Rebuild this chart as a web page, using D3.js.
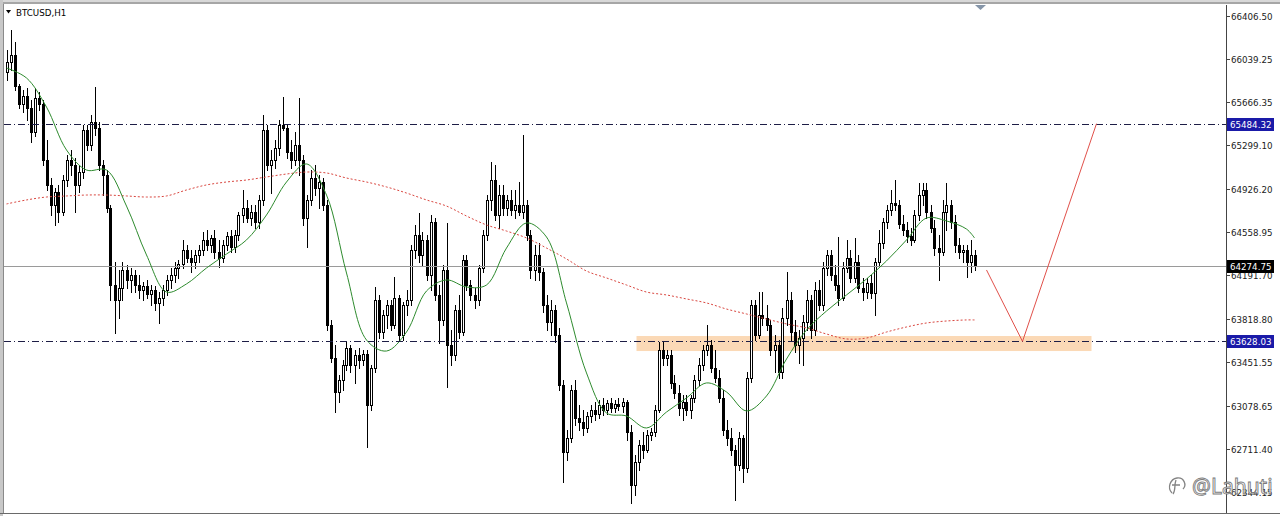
<!DOCTYPE html>
<html><head><meta charset="utf-8">
<script src="https://cdn.jsdelivr.net/npm/d3@7"></script>
<style>html,body{margin:0;padding:0;background:#fff;overflow:hidden}</style>
</head><body><svg id="c" width="1280" height="516"></svg>
<script>
const symbol = "BTCUSD,H1";
const open = [65925,66010,66070,65805,65652,65720,65618,65413,65703,65652,
65175,64962,64791,64902,64731,65004,65175,65132,64962,65072,
65430,65303,65499,65448,65132,65047,64766,64109,63981,64084,
64237,64152,64194,64109,64066,64101,64032,64066,63956,63998,
64066,64152,64194,64254,64288,64407,64339,64305,64365,64407,
64493,64450,64510,64390,64339,64450,64527,64433,64535,64706,
64766,64680,64731,64646,64834,65430,65132,65175,65277,65473,
65448,65243,65175,65303,65175,64680,64834,65021,64936,64987,
64791,63768,63487,63197,63299,63427,63572,63427,63512,63470,
63521,63086,63401,63981,63708,63853,63939,63768,63998,63683,
63939,63981,64407,64535,64365,64493,64194,64646,64024,63811,
64237,63598,63512,63896,63708,64322,64109,64024,63981,64254,
64535,64834,65004,64706,64876,64766,64834,64748,64791,64731,
64791,64535,64237,64365,64220,63939,63794,63896,63683,63257,
62685,62805,63214,62975,62941,62890,62992,63043,63009,63086,
63043,63103,63061,63095,63077,63112,62856,62404,62600,62745,
62702,62830,62856,63043,63555,63487,63512,63274,63188,63061,
63112,63043,63146,63299,63427,63555,63598,63401,63316,63146,
62873,62805,62702,62575,62805,62549,63316,63939,63683,63853,
63828,63768,63555,63598,63367,63828,63981,63708,63598,63657,
63794,63981,63725,64066,63939,64254,64365,64194,64109,63998,
64254,64339,64169,64305,64084,64049,64126,64041,64305,64467,
64646,64748,64808,64791,64629,64578,64527,64493,64706,64876,
64919,64731,64595,64424,64390,64731,64791,64646,64450,64390,
64407,64305,64365];
const high = [66112,66283,66181,65823,65771,65788,65686,65788,65754,65686,
65345,65021,64936,64962,65047,65217,65260,65192,65132,65473,
65473,65558,65797,65499,65175,65089,64791,64305,64237,64305,
64280,64254,64237,64194,64135,64152,64109,64101,64049,64109,
64194,64254,64305,64322,64493,64450,64407,64407,64450,64561,
64578,64535,64578,64493,64493,64561,64578,64578,64731,64919,
64834,64791,64791,64876,65558,65473,65260,65345,65516,65712,
65482,65345,65413,65703,65217,64876,65089,65132,65047,65021,
64834,63811,63598,63342,63470,63623,63598,63555,63572,63555,
63555,63427,64092,64024,63896,63981,63981,64177,64024,63964,
64066,64450,64621,64723,64561,64535,64706,64680,64109,64280,
64638,63725,63939,64024,64365,64365,64152,64084,64280,64578,
64876,65158,65132,64962,64962,64876,64919,64919,64987,65388,
64834,64578,64450,64467,64254,64024,63981,63939,63743,63299,
62873,63257,63299,63086,63043,63026,63086,63112,63129,63146,
63129,63146,63129,63146,63146,63129,62916,62660,62788,62856,
62873,62890,63086,63623,63623,63555,63555,63342,63257,63171,
63171,63171,63342,63487,63598,63768,63640,63555,63384,63214,
62958,62890,62745,62856,62830,63367,63981,63981,64049,64049,
63939,63811,63683,63640,63913,64220,64049,63811,63725,63853,
64066,64024,64135,64152,64305,64407,64407,64280,64518,64305,
64493,64407,64510,64365,64169,64169,64194,64339,64578,64680,
64791,64919,65004,64834,64706,64646,64595,64748,64979,64979,
64979,64791,64663,64535,64834,64979,64834,64706,64510,64450,
64450,64493,64407];
const low = [65857,65942,65771,65618,65584,65516,65328,65379,65601,65132,
64919,64706,64621,64646,64706,64953,65047,64731,64902,65021,
65260,65260,65388,65089,64876,64731,63981,63700,63828,63981,
64084,64049,64049,63998,63981,63998,63939,63896,63785,63939,
64024,64084,64135,64169,64254,64305,64220,64254,64305,64365,
64407,64390,64339,64263,64305,64407,64390,64390,64493,64646,
64646,64621,64595,64595,64791,65089,64893,65107,65217,65430,
65192,65107,65132,65047,64621,64433,64791,64876,64766,64748,
63725,63453,63026,63112,63214,63384,63367,63274,63401,63427,
62728,63043,63367,63657,63657,63743,63725,63743,63640,63640,
63853,63939,64339,64305,64280,64152,64066,63981,63615,63768,
63240,63427,63470,63657,63683,64066,63981,63913,63939,64220,
64493,64748,64663,64595,64706,64706,64706,64680,64706,64680,
64493,64169,64152,64152,63879,63725,63683,63623,63214,62430,
62617,62771,62916,62873,62830,62856,62941,62958,62975,63001,
63009,63026,63026,63043,63026,62788,62251,62319,62532,62634,
62685,62788,62822,63026,63427,63427,63231,63146,63001,62958,
63001,62975,63112,63257,63384,63512,63367,63282,63112,62830,
62745,62660,62276,62532,62430,62515,63282,63640,63657,63768,
63725,63512,63367,63316,63316,63768,63640,63538,63444,63427,
63725,63657,63683,63896,63896,64194,64152,64066,63939,63981,
64220,64135,64135,64049,63981,63998,63998,63853,64280,64424,
64595,64706,64748,64595,64535,64476,64450,64476,64663,64791,
64680,64561,64365,64152,64365,64578,64595,64390,64339,64305,
64177,64220,64237];
const close = [66010,66070,65805,65652,65720,65618,65413,65703,65652,65175,
64962,64791,64902,64731,65004,65175,65132,64962,65072,65430,
65303,65499,65448,65132,65047,64766,64109,63981,64084,64237,
64152,64194,64109,64066,64101,64032,64066,63956,63998,64066,
64152,64194,64254,64288,64407,64339,64305,64365,64407,64493,
64450,64510,64390,64339,64450,64527,64433,64535,64706,64766,
64680,64731,64646,64834,65430,65132,65175,65277,65473,65448,
65243,65175,65303,65175,64680,64834,65021,64936,64987,64791,
63768,63487,63197,63299,63427,63572,63427,63512,63470,63521,
63086,63401,63981,63708,63853,63939,63768,63998,63683,63939,
63981,64407,64535,64365,64493,64194,64646,64024,63811,64237,
63598,63512,63896,63708,64322,64109,64024,63981,64254,64535,
64834,65004,64706,64876,64766,64834,64748,64791,64731,64791,
64535,64237,64365,64220,63939,63794,63896,63683,63257,62685,
62805,63214,62975,62941,62890,62992,63043,63009,63086,63043,
63103,63061,63095,63077,63112,62856,62404,62600,62745,62702,
62830,62856,63043,63555,63487,63512,63274,63188,63061,63112,
63043,63146,63299,63427,63555,63598,63401,63316,63146,62873,
62805,62702,62575,62805,62549,63316,63939,63683,63853,63828,
63768,63555,63598,63367,63828,63981,63708,63598,63657,63794,
63981,63725,64066,63939,64254,64365,64194,64109,63998,64254,
64339,64169,64305,64084,64049,64126,64041,64305,64467,64646,
64748,64808,64791,64629,64578,64527,64493,64706,64876,64919,
64731,64595,64424,64390,64731,64791,64646,64450,64390,64407,
64305,64365,64274.75];

// moving averages read at every 5th bar (plus the last bar)
const maBars = [0,5,10,15,20,25,30,35,40,45,50,55,60,65,70,75,80,85,90,95,100,105,110,115,120,125,130,135,140,145,150,155,160,165,170,175,180,185,190,195,200,205,210,215,220,225,230,235,240,242];
const maFast = [65959,65874,65626,65260,65089,65089,64782,64365,64049,64118,64254,64373,64493,64706,64987,65141,64876,64211,63640,63546,63708,64058,64152,64092,64109,64424,64638,64518,63956,63359,63018,62992,62890,63026,63146,63274,63197,63035,63163,63478,63725,63887,64024,64160,64314,64493,64680,64655,64586,64510];
const maSlow = [64800,64834,64859,64868,64876,64876,64868,64859,64868,64919,64962,64987,65004,65030,65055,65072,65064,65021,64987,64945,64893,64834,64782,64697,64621,64569,64510,64424,64331,64228,64169,64109,64049,64024,63990,63956,63904,63862,63819,63777,63743,63691,63649,63657,63708,63751,63785,63802,63811,63811];

const tickValues = [66406.50,66039.25,65666.35,65299.10,64926.20,64558.95,64191.70,63818.80,63451.55,63078.65,62711.40,62344.15];
const tickLabels = ["66406.50","66039.25","65666.35","65299.10","64926.20","64558.95","64191.70","63818.80","63451.55","63078.65","62711.40","62344.15"];

const resistance = 65484.32, support = 63628.03, bid = 64274.75;
const zoneBars = [157.5, 271.25], zonePrices = [63674, 63546];
const forecastBars = [245, 254, 272.5];
const forecastPrices = [64237, 63628.03, 65484.32];
const watermark = "@Lahuti";

const svg = d3.select("#c");
const W = 1280, H = 516, plotR = 1226, plotT = 5, plotB = 513;
const x = d3.scaleLinear().domain([0, 305]).range([6.5, 1226.5]);
const y = d3.scaleLinear().domain([62344.15, 66406.50]).range([492, 15.5]);

svg.append("rect").attr("width", W).attr("height", H).attr("fill", "#fff");

const clip = svg.append("defs").append("clipPath").attr("id","pc").append("rect")
  .attr("x", 4).attr("y", plotT).attr("width", plotR - 4).attr("height", plotB - plotT);
const plot = svg.append("g").attr("clip-path", "url(#pc)");

// zone
plot.append("rect")
  .attr("x", x(zoneBars[0])).attr("width", x(zoneBars[1]) - x(zoneBars[0]))
  .attr("y", y(zonePrices[0])).attr("height", y(zonePrices[1]) - y(zonePrices[0]))
  .attr("fill", "#fbd9b6");

// candles
const idx = d3.range(open.length);
const cg = plot.append("g");
idx.forEach(i => {
  const cx = Math.round(x(i));
  cg.append("line").attr("x1", cx + 0.5).attr("x2", cx + 0.5)
    .attr("y1", Math.round(y(high[i]))).attr("y2", Math.round(y(low[i])) + 1)
    .attr("stroke", "#000").attr("stroke-width", 1);
});
idx.forEach(i => {
  const cx = Math.round(x(i));
  const top = Math.round(y(Math.max(open[i], close[i])));
  const bot = Math.round(y(Math.min(open[i], close[i])));
  const bull = close[i] >= open[i];
  cg.append("rect").attr("x", cx - 0.5).attr("width", 2)
    .attr("y", top + 0.5).attr("height", Math.max(0, bot - top))
    .attr("fill", bull ? "#fff" : "#000").attr("stroke", "#000").attr("stroke-width", 1);
});

// bid line
plot.append("line").attr("x1", 4).attr("x2", plotR).attr("y1", Math.round(y(bid)) + 0.5).attr("y2", Math.round(y(bid)) + 0.5)
  .attr("stroke", "#9a9a9a").attr("stroke-width", 1);

// moving averages
const maLine = d3.line().x(d => x(d[0])).y(d => y(d[1])).curve(d3.curveCatmullRom.alpha(0.5));
plot.append("path").attr("d", maLine(maBars.map((b, k) => [b, maSlow[k]])))
  .attr("fill", "none").attr("stroke", "#d9463f").attr("stroke-width", 1).attr("stroke-dasharray", "2,2");
plot.append("path").attr("d", maLine(maBars.map((b, k) => [b, maFast[k]])))
  .attr("fill", "none").attr("stroke", "#2e8b2e").attr("stroke-width", 1);

// level lines
[resistance, support].forEach(v => {
  const yy = Math.round(y(v)) + 0.5;
  plot.append("line").attr("x1", 4).attr("x2", plotR).attr("y1", yy).attr("y2", yy)
    .attr("stroke", "#1d1d45").attr("stroke-width", 1).attr("stroke-dasharray", "7,3,1,3");
});

// forecast path
plot.append("path")
  .attr("d", d3.line().x(d => x(d[0])).y(d => y(d[1]))(forecastBars.map((b, k) => [b, forecastPrices[k]])))
  .attr("fill", "none").attr("stroke", "#e0504a").attr("stroke-width", 1);

// frame
svg.append("rect").attr("x", 0).attr("y", 0).attr("width", W).attr("height", 2).attr("fill", "#d8d8d8");
svg.append("rect").attr("x", 0).attr("y", 2).attr("width", W).attr("height", 2).attr("fill", "#a6a6a6");
svg.append("rect").attr("x", 0).attr("y", 0).attr("width", 3).attr("height", H).attr("fill", "#c8c8c8");
svg.append("line").attr("x1", 3.5).attr("x2", 3.5).attr("y1", 4).attr("y2", plotB).attr("stroke", "#8a8a8a");
svg.append("line").attr("x1", 0).attr("x2", W).attr("y1", plotB + 0.5).attr("y2", plotB + 0.5).attr("stroke", "#6a6a6a");
svg.append("line").attr("x1", plotR + 0.5).attr("x2", plotR + 0.5).attr("y1", plotT).attr("y2", plotB).attr("stroke", "#444");

// shift marker
svg.append("path").attr("d", "M975,5 L986,5 L980.5,10 Z").attr("fill", "#8595a8");

// axis
const ax = svg.append("g").attr("font-family", "DejaVu Sans, Verdana, sans-serif").attr("font-size", "8.7px");
tickValues.forEach((v, k) => {
  const yy = Math.round(y(v)) + 0.5;
  ax.append("line").attr("x1", plotR).attr("x2", plotR + 4).attr("y1", yy).attr("y2", yy).attr("stroke", "#444");
  ax.append("text").attr("x", 1231).attr("y", yy).attr("dy", "0.36em").attr("fill", "#222").text(tickLabels[k]);
});
[[resistance, "#1a1aa8"], [bid, "#000"], [support, "#1a1aa8"]].forEach(([v, col]) => {
  const yy = y(v);
  ax.append("rect").attr("x", 1227).attr("y", Math.round(yy) - 6).attr("width", 47).attr("height", 13).attr("fill", col);
  ax.append("text").attr("x", 1230).attr("y", Math.round(yy) + 0.5).attr("dy", "0.36em").attr("fill", "#fff").text(v.toFixed(2));
});

// title
svg.append("path").attr("d", "M6,10 L11,10 L8.5,13.5 Z").attr("fill", "#000");
svg.append("text").attr("x", 16).attr("y", 15.5).attr("font-family", "DejaVu Sans, Verdana, sans-serif")
  .attr("font-size", "8.7px").attr("fill", "#000").text(symbol);

// watermark
const wm = svg.append("g").attr("opacity", 0.9);
wm.append("path").attr("d", "M1172,493 C1167,488 1170,479 1177,478 C1184,477 1187,485 1183,489 M1176,480 C1174,485 1176,490 1173,494 M1172,485 L1180,485")
  .attr("fill", "none").attr("stroke", "#777").attr("stroke-width", 1.3);
wm.append("text").attr("x", 1192).attr("y", 494).attr("font-family", "Noto Sans, DejaVu Sans, sans-serif")
  .attr("font-size", "21px").attr("fill", "#fff").attr("stroke", "#6e6e6e").attr("stroke-width", 0.9).text(watermark);
</script></body></html>
